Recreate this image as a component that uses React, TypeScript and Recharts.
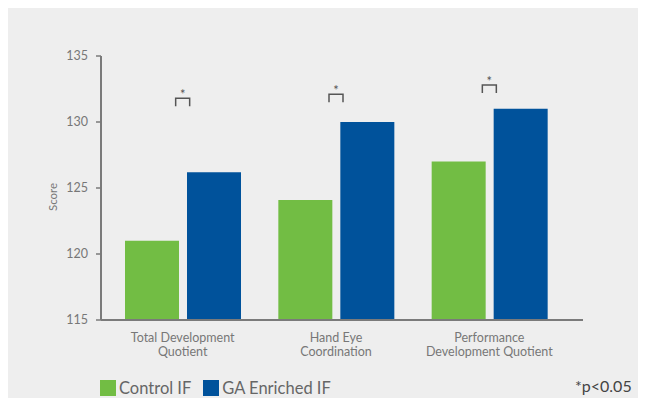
import React from 'react';
import {
  ComposedChart,
  Bar,
  Scatter,
  XAxis,
  YAxis,
} from 'recharts';

const categories = ['Total Development Quotient', 'Hand Eye Coordination', 'Performance Development Quotient'];
const tickLines = [
  ['Total Development', 'Quotient'],
  ['Hand Eye', 'Coordination'],
  ['Performance', 'Development Quotient'],
];
const controlIF = [121, 124.1, 127];
const gaEnrichedIF = [126.2, 130, 131];
// height of the significance bracket above each group
const sigBracket = [131.8, 132.1, 132.8];
const yTicks = [115, 120, 125, 130, 135];

const GREEN = '#72bd44';
const BLUE = '#00529b';
const AXIS = '#7a7a7a';
const FONT = 'Lato, "Noto Sans", sans-serif';

const data = categories.map((name, i) => ({
  name,
  control: controlIF[i],
  enriched: gaEnrichedIF[i],
  sig: sigBracket[i],
}));

function CategoryTick(props: any) {
  const { x, y, index } = props;
  const lines = tickLines[index] || [];
  return (
    <g>
      {lines.map((line, i) => (
        <text
          key={i}
          x={x}
          y={y + 14 + i * 14}
          textAnchor="middle"
          fill="#777"
          fontSize={12.5}
          fontFamily={FONT}
        >
          {line}
        </text>
      ))}
    </g>
  );
}

function SigBracket(props: any) {
  const { cx, cy } = props;
  if (cx == null || cy == null) return null;
  return (
    <g>
      <path
        d={`M${cx - 7},${cy + 8} L${cx - 7},${cy} L${cx + 7},${cy} L${cx + 7},${cy + 8}`}
        fill="none"
        stroke="#555"
        strokeWidth={1.5}
      />
      <text x={cx} y={cy + 1} textAnchor="middle" fill="#555" fontSize={13} fontFamily={FONT}>
        *
      </text>
    </g>
  );
}

function ScoreLabel() {
  const cx = 44;
  const cy = 189;
  return (
    <text
      x={cx}
      y={cy}
      transform={`rotate(-90, ${cx}, ${cy})`}
      textAnchor="middle"
      dominantBaseline="central"
      fill="#777"
      fontSize={11.5}
      fontFamily={FONT}
    >
      Score
    </text>
  );
}

export default function App() {
  return (
    <div
      style={{
        width: 638,
        height: 398,
        marginBottom: -8,
        background: '#eeeeee',
        position: 'relative',
        fontFamily: FONT,
      }}
    >
      <ComposedChart
        width={638}
        height={355}
        data={data}
        margin={{ top: 48, right: 63, bottom: 0, left: 0 }}
        barSize={54}
        barGap={8}
      >
        <XAxis
          dataKey="name"
          axisLine={{ stroke: AXIS, strokeWidth: 2 }}
          tickLine={false}
          tick={<CategoryTick />}
          padding={{ left: 5, right: 17 }}
          height={43}
          interval={0}
        />
        <YAxis
          domain={[115, 135]}
          ticks={yTicks}
          width={93}
          axisLine={{ stroke: AXIS, strokeWidth: 2 }}
          tickLine={{ stroke: AXIS, strokeWidth: 1.5 }}
          tickSize={5}
          tickMargin={8}
          tick={{ fill: '#777', fontSize: 12.5, fontFamily: FONT }}
          allowDataOverflow
          label={<ScoreLabel />}
        />
        <Bar dataKey="control" fill={GREEN} isAnimationActive={false} />
        <Bar dataKey="enriched" fill={BLUE} isAnimationActive={false} />
        <Scatter dataKey="sig" shape={<SigBracket />} isAnimationActive={false} />
      </ComposedChart>
      <div style={{ position: 'absolute', left: 92, top: 370, display: 'flex', alignItems: 'center', color: '#666', fontSize: 16.5 }}>
        <span style={{ width: 16, height: 16, background: GREEN, display: 'inline-block', marginRight: 3 }} />
        <span style={{ marginRight: 12 }}>Control IF</span>
        <span style={{ width: 16, height: 16, background: BLUE, display: 'inline-block', marginRight: 3 }} />
        <span>GA Enriched IF</span>
      </div>
      <div style={{ position: 'absolute', left: 567, top: 370, color: '#444', fontSize: 16, lineHeight: '16px' }}>
        *p&lt;0.05
      </div>
    </div>
  );
}
